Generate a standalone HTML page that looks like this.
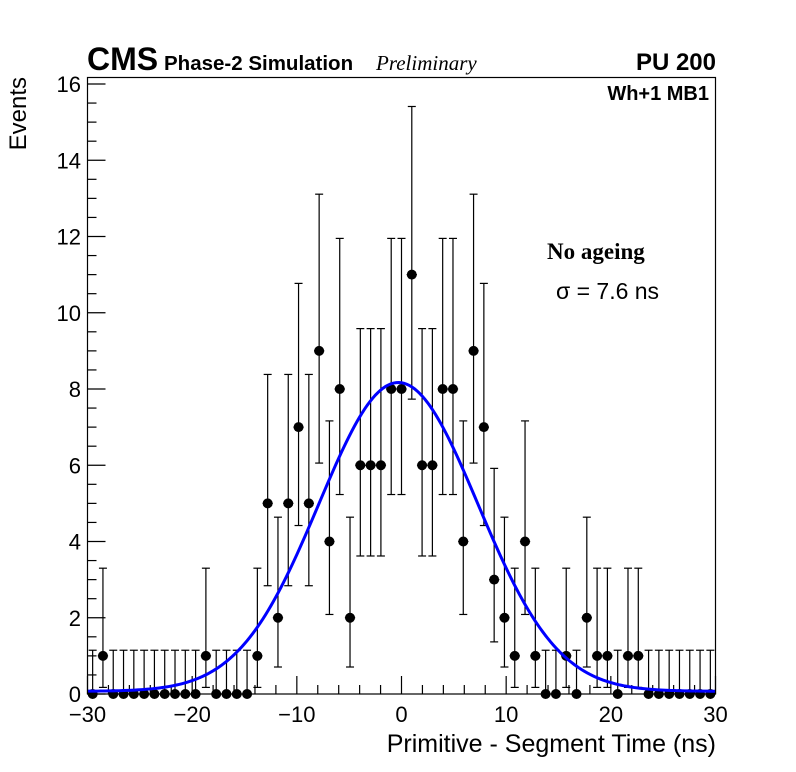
<!DOCTYPE html>
<html><head><meta charset="utf-8"><style>
body{margin:0;background:#fff;}
svg{display:block;font-family:"Liberation Sans",sans-serif;}
</style></head><body>
<svg id="chart" width="796" height="772" viewBox="0 0 796 772" xmlns="http://www.w3.org/2000/svg">
<rect width="796" height="772" fill="#fff"/>
<g id="axes"></g>
<g id="marks"></g>
<path id="fit" fill="none" stroke="#0000ff" stroke-width="3"/>
<rect x="87.5" y="77.5" width="628" height="616.5" fill="none" stroke="#000" stroke-width="1.2"/>
<text x="87" y="70" font-size="32" font-weight="bold">CMS</text>
<text x="164" y="70" font-size="20.5" font-weight="bold">Phase-2 Simulation</text>
<text x="376" y="70" font-size="21" font-style="italic" font-family="Liberation Serif, serif">Preliminary</text>
<text x="716" y="70" font-size="24" font-weight="bold" text-anchor="end">PU 200</text>
<text x="709" y="100" font-size="20" font-weight="bold" text-anchor="end">Wh+1 MB1</text>
<text x="547" y="259" font-size="23" font-weight="bold" font-family="Liberation Serif, serif">No ageing</text>
<text x="556" y="299" font-size="23">σ = 7.6 ns</text>
<text x="716" y="752" font-size="25" text-anchor="end">Primitive - Segment Time (ns)</text>
<text transform="translate(26,77) rotate(-90)" font-size="24" text-anchor="end">Events</text>
</svg>
<script>
const counts = [0,1,0,0,0,0,0,0,0,0,0,1,0,0,0,0,1,5,2,5,7,5,9,4,8,2,6,6,6,8,
                8,11,6,6,8,8,4,9,7,3,2,1,4,1,0,0,1,0,2,1,1,0,1,1,0,0,0,0,0,0,0];
const binIndex = counts.map((c,i)=>i-30);
const binWidth = 60/61;
const xTicks = [-30,-20,-10,0,10,20,30];
const xTickLabels = ["\u221230","\u221220","\u221210","0","10","20","30"];
const yTicks = [0,2,4,6,8,10,12,14,16];
const fitAmp = 8.1, fitMean = -0.3, fitSigma = 7.6, fitConst = 0.07;
const poisLo = [0,0.173,0.708,1.367,2.086,2.840,3.620,4.419,5.232,6.057,6.891,7.734];
const poisHi = [1.148,3.300,4.638,5.918,7.163,8.382,9.584,10.77,11.95,13.11,14.27,15.41];

const X0=87.5,X1=715.5,Y0=694,YPER=38.125;
const sx=v=>X0+(v+30)*(X1-X0)/60;
const sy=v=>Y0-v*YPER;
const NS="http://www.w3.org/2000/svg";
function mk(tag,attrs,parent){const e=document.createElementNS(NS,tag);for(const k in attrs)e.setAttribute(k,attrs[k]);parent.appendChild(e);return e;}
const axes=document.getElementById('axes');
const marks=document.getElementById('marks');
for(let v=-30;v<=30;v+=2){
  const maj=v%10===0;
  const t=mk('line',{x1:sx(v),x2:sx(v),y1:Y0,y2:Y0-(maj?18:9),stroke:'#000','stroke-width':1.2},axes);
  
  
}
xTicks.forEach((v,i)=>{
  const t=mk('text',{x:sx(v),y:722,'font-size':22,'text-anchor':'middle'},axes);
  t.textContent=xTickLabels[i];
  
  
});
for(let v=0;v<=16.1;v+=0.5){
  const maj=Math.abs(v%2)<1e-9;
  const t=mk('line',{x1:X0,x2:X0+(maj?18:9),y1:sy(v),y2:sy(v),stroke:'#000','stroke-width':1.2},axes);
  
  
}
yTicks.forEach(v=>{
  const t=mk('text',{x:81,y:sy(v)+8,'font-size':22,'text-anchor':'end'},axes);
  t.textContent=String(v);
  
  
});
counts.forEach((c,i)=>{
  const xc=binIndex[i]*binWidth;
  const g=mk('g',{},marks);
  
  
  const px=sx(xc), py=sy(c);
  mk('line',{x1:px,x2:px,y1:sy(poisLo[c]),y2:sy(poisHi[c]),stroke:'#000','stroke-width':1.2},g);
  mk('line',{x1:px-4,x2:px+4,y1:sy(poisHi[c]),y2:sy(poisHi[c]),stroke:'#000','stroke-width':1.2},g);
  if(c>0) mk('line',{x1:px-4,x2:px+4,y1:sy(poisLo[c]),y2:sy(poisLo[c]),stroke:'#000','stroke-width':1.2},g);
  mk('line',{x1:sx(xc-binWidth/2),x2:sx(xc+binWidth/2),y1:py,y2:py,stroke:'#000','stroke-width':1.2},g);
  mk('circle',{cx:px,cy:py,r:5,fill:'#000'},g);
});
let d='';
for(let v=-30;v<=30.001;v+=0.25){
  const y=fitConst+fitAmp*Math.exp(-0.5*Math.pow((v-fitMean)/fitSigma,2));
  d+=(d?'L':'M')+sx(v).toFixed(2)+','+sy(y).toFixed(2);
}
document.getElementById('fit').setAttribute('d',d);
</script>
</body></html>
